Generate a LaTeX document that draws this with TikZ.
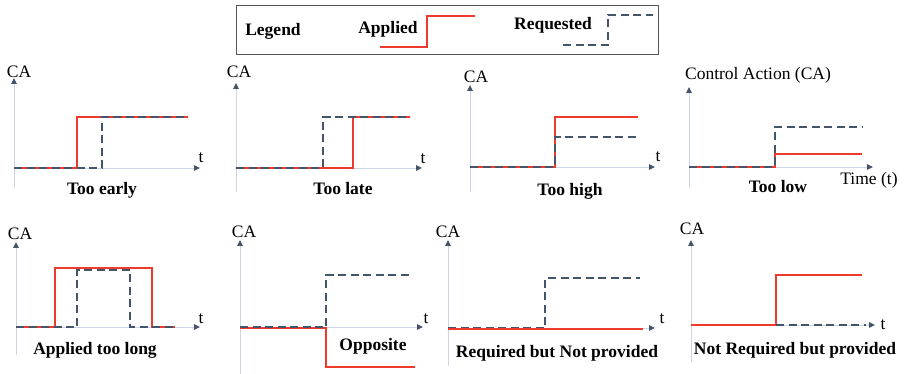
\documentclass[tikz,border=0pt]{standalone}
\usepackage{fontspec}
\setmainfont{Liberation Serif}
\usetikzlibrary{arrows.meta}
\definecolor{redc}{HTML}{EE3A2C}
\definecolor{bluec}{HTML}{44546A}
\definecolor{axisc}{HTML}{CDD5E4}
\definecolor{arrc}{HTML}{44546A}
\definecolor{boxc}{HTML}{555555}
\tikzset{
  ax/.style={draw=axisc, line width=0.9pt, -{Triangle[length=6pt,width=5.5pt,color=arrc]}},
  app/.style={draw=redc, line width=2.8pt},
  req/.style={draw=bluec, line width=2.8pt, dash pattern=on 8pt off 4.5pt},
  lab/.style={font=\bfseries\fontsize{17.5}{20}\selectfont, inner sep=0pt, anchor=base},
  axl/.style={font=\fontsize{17.5}{20}\selectfont, inner sep=0pt, anchor=base},
  legbox/.style={draw=boxc, line width=1.4pt}
}
\begin{document}
\begin{tikzpicture}[x=1pt,y=-1pt]
\useasboundingbox (0,0) rectangle (905,374);
% legend
\node[legbox, minimum width=422pt, minimum height=49pt, anchor=north west] (leg) at (236,5) {};
\node[lab] (legt) at (273,36) {Legend};
\node[lab] (appt) at (388,34) {Applied};
\node[lab] (reqt) at (553,30) {Requested};
\coordinate (la1) at (380,47); \coordinate (la2) at (427,47); \coordinate (la3) at (427,16); \coordinate (la4) at (475,16);
\draw[app] (la1) -- (la2) -- (la3) -- (la4);
\coordinate (lr1) at (563,45); \coordinate (lr2) at (608,45); \coordinate (lr3) at (608,15); \coordinate (lr4) at (653,15);
\draw[req] (lr1) -- (lr2) -- (lr3) -- (lr4);

% ---------- Panel 1: Too early
\coordinate (a1b) at (14,188); \coordinate (a1t) at (14,78); \coordinate (a1o) at (14,168); \coordinate (a1x) at (200,168);
\draw[ax] (a1b) -- (a1t);
\draw[ax] (a1o) -- (a1x);
\node[axl] (ca1) at (19,78) {CA};
\node[axl] (t1) at (201,163) {t};
\coordinate (r1a) at (14,168); \coordinate (r1b) at (77,168); \coordinate (r1c) at (77,117); \coordinate (r1d) at (188,117);
\draw[app] (r1a) -- (r1b) -- (r1c) -- (r1d);
\coordinate (b1a) at (14,168); \coordinate (b1b) at (102,168); \coordinate (b1c) at (102,117); \coordinate (b1d) at (188,117);
\draw[req] (b1a) -- (b1b) -- (b1c) -- (b1d);
\node[lab] (l1) at (102,195) {Too early};

% ---------- Panel 2: Too late
\coordinate (a2b) at (236,192); \coordinate (a2t) at (236,83); \coordinate (a2o) at (236,168); \coordinate (a2x) at (422,168);
\draw[ax] (a2b) -- (a2t);
\draw[ax] (a2o) -- (a2x);
\node[axl] (ca2) at (239,78) {CA};
\node[axl] (t2) at (423,164) {t};
\coordinate (r2a) at (236,168); \coordinate (r2b) at (353,168); \coordinate (r2c) at (353,117); \coordinate (r2d) at (410,117);
\draw[app] (r2a) -- (r2b) -- (r2c) -- (r2d);
\coordinate (b2a) at (236,168); \coordinate (b2b) at (323,168); \coordinate (b2c) at (323,117); \coordinate (b2d) at (410,117);
\draw[req] (b2a) -- (b2b) -- (b2c) -- (b2d);
\node[lab] (l2) at (343,195) {Too late};

% ---------- Panel 3: Too high
\coordinate (a3b) at (470,192); \coordinate (a3t) at (470,85); \coordinate (a3o) at (470,167); \coordinate (a3x) at (655,167);
\draw[ax] (a3b) -- (a3t);
\draw[ax] (a3o) -- (a3x);
\node[axl] (ca3) at (476,83) {CA};
\node[axl] (t3) at (658,162) {t};
\coordinate (r3a) at (470,167); \coordinate (r3b) at (555,167); \coordinate (r3c) at (555,117); \coordinate (r3d) at (638,117);
\draw[app] (r3a) -- (r3b) -- (r3c) -- (r3d);
\coordinate (b3a) at (470,167); \coordinate (b3b) at (555,167); \coordinate (b3c) at (555,137); \coordinate (b3d) at (638,137);
\draw[req] (b3a) -- (b3b) -- (b3c) -- (b3d);
\node[lab] (l3) at (570,196) {Too high};

% ---------- Panel 4: Too low
\coordinate (a4b) at (689,188); \coordinate (a4t) at (689,87); \coordinate (a4o) at (689,167); \coordinate (a4x) at (873,167);
\draw[ax] (a4b) -- (a4t);
\draw[ax] (a4o) -- (a4x);
\node[axl] (ca4) at (758,80) {Control Action (CA)};
\node[axl] (t4) at (869,185) {Time (t)};
\coordinate (r4a) at (689,167); \coordinate (r4b) at (775,167); \coordinate (r4c) at (775,154); \coordinate (r4d) at (862,154);
\draw[app] (r4a) -- (r4b) -- (r4c) -- (r4d);
\coordinate (b4a) at (689,167); \coordinate (b4b) at (775,167); \coordinate (b4c) at (775,127); \coordinate (b4d) at (862,127);
\draw[req] (b4a) -- (b4b) -- (b4c) -- (b4d);
\node[lab] (l4) at (778,193) {Too low};

% ---------- Panel 5: Applied too long
\coordinate (a5b) at (16,355); \coordinate (a5t) at (16,242); \coordinate (a5o) at (16,327); \coordinate (a5x) at (200,327);
\draw[ax] (a5b) -- (a5t);
\draw[ax] (a5o) -- (a5x);
\node[axl] (ca5) at (20,240) {CA};
\node[axl] (t5) at (201,323) {t};
\coordinate (r5a) at (22,327); \coordinate (r5b) at (55,327); \coordinate (r5c) at (55,268); \coordinate (r5d) at (152,268); \coordinate (r5e) at (152,327); \coordinate (r5f) at (175,327);
\draw[app] (r5a) -- (r5b) -- (r5c) -- (r5d) -- (r5e) -- (r5f);
\coordinate (b5a) at (16,327); \coordinate (b5b) at (77,327); \coordinate (b5c) at (77,270); \coordinate (b5d) at (130,270); \coordinate (b5e) at (130,327); \coordinate (b5f) at (175,327);
\draw[req] (b5a) -- (b5b) -- (b5c) -- (b5d) -- (b5e) -- (b5f);
\node[lab] (l5) at (95,354) {Applied too long};

% ---------- Panel 6: Opposite
\coordinate (a6b) at (240,374); \coordinate (a6t) at (240,240); \coordinate (a6o) at (240,327); \coordinate (a6x) at (423,327);
\draw[ax] (a6b) -- (a6t);
\draw[ax] (a6o) -- (a6x);
\node[axl] (ca6) at (244,237) {CA};
\node[axl] (t6) at (426,323) {t};
\coordinate (r6a) at (240,328); \coordinate (r6b) at (326,328); \coordinate (r6c) at (326,367); \coordinate (r6d) at (415,367);
\draw[app] (r6a) -- (r6b) -- (r6c) -- (r6d);
\coordinate (b6a) at (240,327); \coordinate (b6b) at (326,327); \coordinate (b6c) at (326,275); \coordinate (b6d) at (413,275);
\draw[req] (b6a) -- (b6b) -- (b6c) -- (b6d);
\node[lab] (l6) at (373,350) {Opposite};

% ---------- Panel 7: Required but Not provided
\coordinate (a7b) at (448,366); \coordinate (a7t) at (448,240); \coordinate (a7o) at (448,328); \coordinate (a7x) at (655,328);
\draw[ax] (a7b) -- (a7t);
\draw[ax] (a7o) -- (a7x);
\node[axl] (ca7) at (448,237) {CA};
\node[axl] (t7) at (662,323) {t};
\coordinate (b7a) at (448,328); \coordinate (b7b) at (545,328); \coordinate (b7c) at (545,278); \coordinate (b7d) at (640,278);
\draw[req] (b7a) -- (b7b) -- (b7c) -- (b7d);
\coordinate (r7a) at (448,329); \coordinate (r7b) at (643,329);
\draw[app] (r7a) -- (r7b);
\node[lab] (l7) at (557,357) {Required but Not provided};

% ---------- Panel 8: Not Required but provided
\coordinate (a8b) at (691,362); \coordinate (a8t) at (691,240); \coordinate (a8o) at (691,325); \coordinate (a8x) at (875,325);
\draw[ax] (a8b) -- (a8t);
\draw[ax] (a8o) -- (a8x);
\node[axl] (ca8) at (692,235) {CA};
\node[axl] (t8) at (883,329) {t};
\coordinate (r8a) at (691,325); \coordinate (r8b) at (776,325); \coordinate (r8c) at (776,275); \coordinate (r8d) at (862,275);
\draw[app] (r8a) -- (r8b) -- (r8c) -- (r8d);
\coordinate (b8a) at (776,325); \coordinate (b8b) at (866,325);
\draw[req] (b8a) -- (b8b);
\node[lab] (l8) at (795,354) {Not Required but provided};
\end{tikzpicture}
\end{document}
